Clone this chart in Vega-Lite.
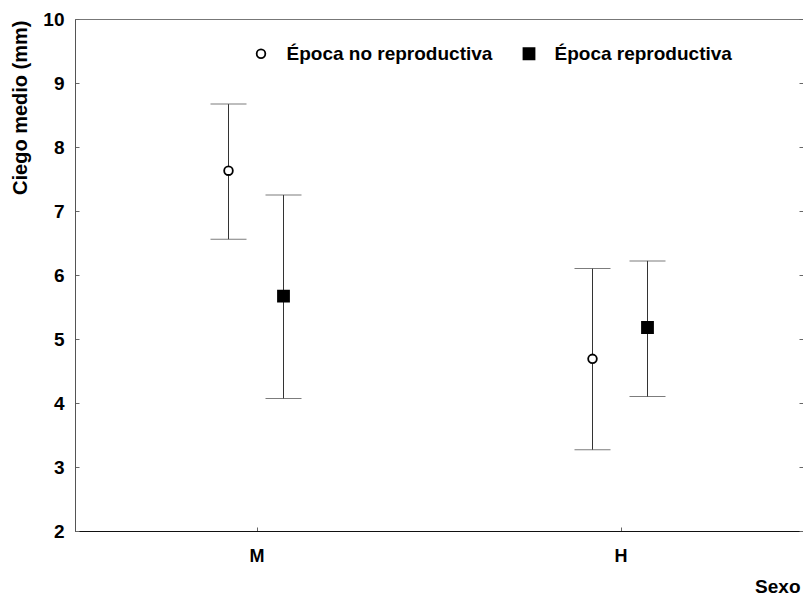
{
  "$schema": "https://vega.github.io/schema/vega-lite/v6.json",
  "width": 728,
  "height": 512,
  "autosize": {"type": "none"},
  "padding": {"left": 75, "top": 19, "right": 0, "bottom": 66},
  "background": "white",
  "config": {
    "font": "Liberation Sans",
    "view": {"stroke": "#777", "strokeWidth": 1},
    "axis": {"grid": false}
  },
  "data": {
    "values": [
      {"sexo": "M", "epoca": "Época no reproductiva", "media": 7.63, "inf": 6.56, "sup": 8.67},
      {"sexo": "M", "epoca": "Época reproductiva", "media": 5.67, "inf": 4.07, "sup": 7.25},
      {"sexo": "H", "epoca": "Época no reproductiva", "media": 4.69, "inf": 3.27, "sup": 6.10},
      {"sexo": "H", "epoca": "Época reproductiva", "media": 5.18, "inf": 4.10, "sup": 6.22}
    ]
  },
  "encoding": {
    "x": {
      "field": "sexo", "type": "nominal", "sort": ["M", "H"],
      "scale": {"paddingInner": 0, "paddingOuter": 0},
      "axis": {
        "orient": "bottom", "labelAngle": 0, "domainColor": "#111", "tickColor": "#666", "tickSize": -4,
        "labelFontSize": 18, "labelFontWeight": "bold", "labelColor": "black", "labelPadding": 20,
        "title": "Sexo", "titleFontSize": 19, "titleFontWeight": "bold", "titleColor": "black",
        "titleAlign": "right", "titleBaseline": "alphabetic", "titleX": 725, "titleY": 61, "titleAnchor": null
      }
    },
    "xOffset": {
      "field": "epoca", "type": "nominal", "sort": ["Época no reproductiva", "Época reproductiva"],
      "scale": {"paddingInner": 0, "paddingOuter": 0, "range": [126, 236]}
    }
  },
  "layer": [
    {
      "mark": {"type": "rule", "color": "#333", "strokeWidth": 1},
      "encoding": {
        "y": {
          "field": "inf", "type": "quantitative",
          "scale": {"domain": [2, 10], "nice": false},
          "axis": {
            "orient": "left", "values": [2, 3, 4, 5, 6, 7, 8, 9, 10],
            "domainColor": "#555", "tickColor": "#666", "tickSize": -4,
            "labelFontSize": 19, "labelFontWeight": "bold", "labelColor": "black", "labelPadding": 15,
            "title": "Ciego medio (mm)", "titleFontSize": 20, "titleFontWeight": "bold", "titleColor": "black",
            "titleAngle": -90, "titleAlign": "right", "titleBaseline": "middle", "titleX": -55, "titleY": 1
          }
        },
        "y2": {"field": "sup"}
      }
    },
    {
      "mark": {"type": "tick", "orient": "horizontal", "size": 36, "thickness": 1, "color": "#444"},
      "encoding": {
        "y": {
          "field": "sup", "type": "quantitative",
          "axis": {"orient": "right", "values": [2, 3, 4, 5, 6, 7, 8, 9, 10], "labels": false, "domain": false, "title": null, "tickColor": "#666", "tickSize": -4}
        }
      }
    },
    {
      "mark": {"type": "tick", "orient": "horizontal", "size": 36, "thickness": 1, "color": "#444"},
      "encoding": {
        "y": {"field": "inf", "type": "quantitative", "axis": null}
      }
    },
    {
      "mark": {"type": "point", "filled": true, "stroke": "black", "strokeWidth": 1.8, "opacity": 1},
      "encoding": {
        "y": {"field": "media", "type": "quantitative", "axis": null},
        "shape": {
          "field": "epoca", "type": "nominal",
          "scale": {"domain": ["Época no reproductiva", "Época reproductiva"], "range": ["circle", "square"]},
          "legend": {
            "orient": "none", "legendX": 176.5, "legendY": 25, "direction": "horizontal", "title": null,
            "labelFont": "Liberation Sans", "labelFontSize": 19, "labelFontWeight": "bold", "labelColor": "black",
            "labelOffset": 16, "labelLimit": 0, "columnPadding": 27, "padding": 0,
            "symbolStrokeColor": "black", "symbolStrokeWidth": 1.8
          }
        },
        "fill": {
          "field": "epoca", "type": "nominal",
          "scale": {"domain": ["Época no reproductiva", "Época reproductiva"], "range": ["white", "black"]}
        },
        "size": {
          "field": "epoca", "type": "nominal",
          "scale": {"domain": ["Época no reproductiva", "Época reproductiva"], "range": [75, 121]}
        }
      }
    }
  ],
  "resolve": {"axis": {"y": "independent"}}
}
